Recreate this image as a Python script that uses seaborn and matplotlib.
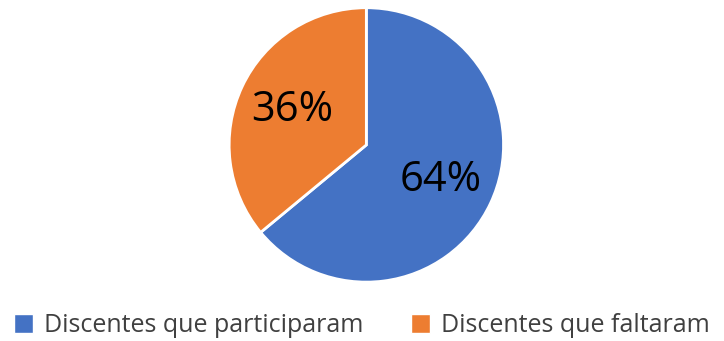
import matplotlib
matplotlib.use("Agg")
import matplotlib.pyplot as plt
import seaborn as sns
from matplotlib.patches import Patch

sns.set_theme(style="white")
plt.rcParams['font.family'] = ['Open Sans', 'DejaVu Sans']

# data
categories = ['Discentes que participaram', 'Discentes que faltaram']
values = [64, 36]
colors = ['#4472C4', '#ED7D31']

fig = plt.figure(figsize=(7.24, 3.41), dpi=100)
ax = fig.add_axes([0.506 - 0.379 / 2, 0.575 - 0.805 / 2, 0.379, 0.805])

wedges, texts, autotexts = ax.pie(
    values, colors=colors, startangle=90, counterclock=False,
    autopct='%1.0f%%', pctdistance=0.6,
    wedgeprops=dict(edgecolor='white', linewidth=2),
    textprops=dict(fontsize=30, color='black'),
)
ax.set_aspect('equal')
ax.set_xlim(-1, 1)
ax.set_ylim(-1, 1)

handles = [Patch(facecolor=c, label=l) for c, l in zip(colors, categories)]
fig.legend(handles=handles, loc='center', bbox_to_anchor=(0.5, 0.045), ncol=2,
           frameon=False, fontsize=18, handlelength=0.75, handleheight=0.75,
           handletextpad=0.45, columnspacing=1.9, labelcolor='#404040')

fig.savefig('out.png', dpi=100, facecolor='white')
